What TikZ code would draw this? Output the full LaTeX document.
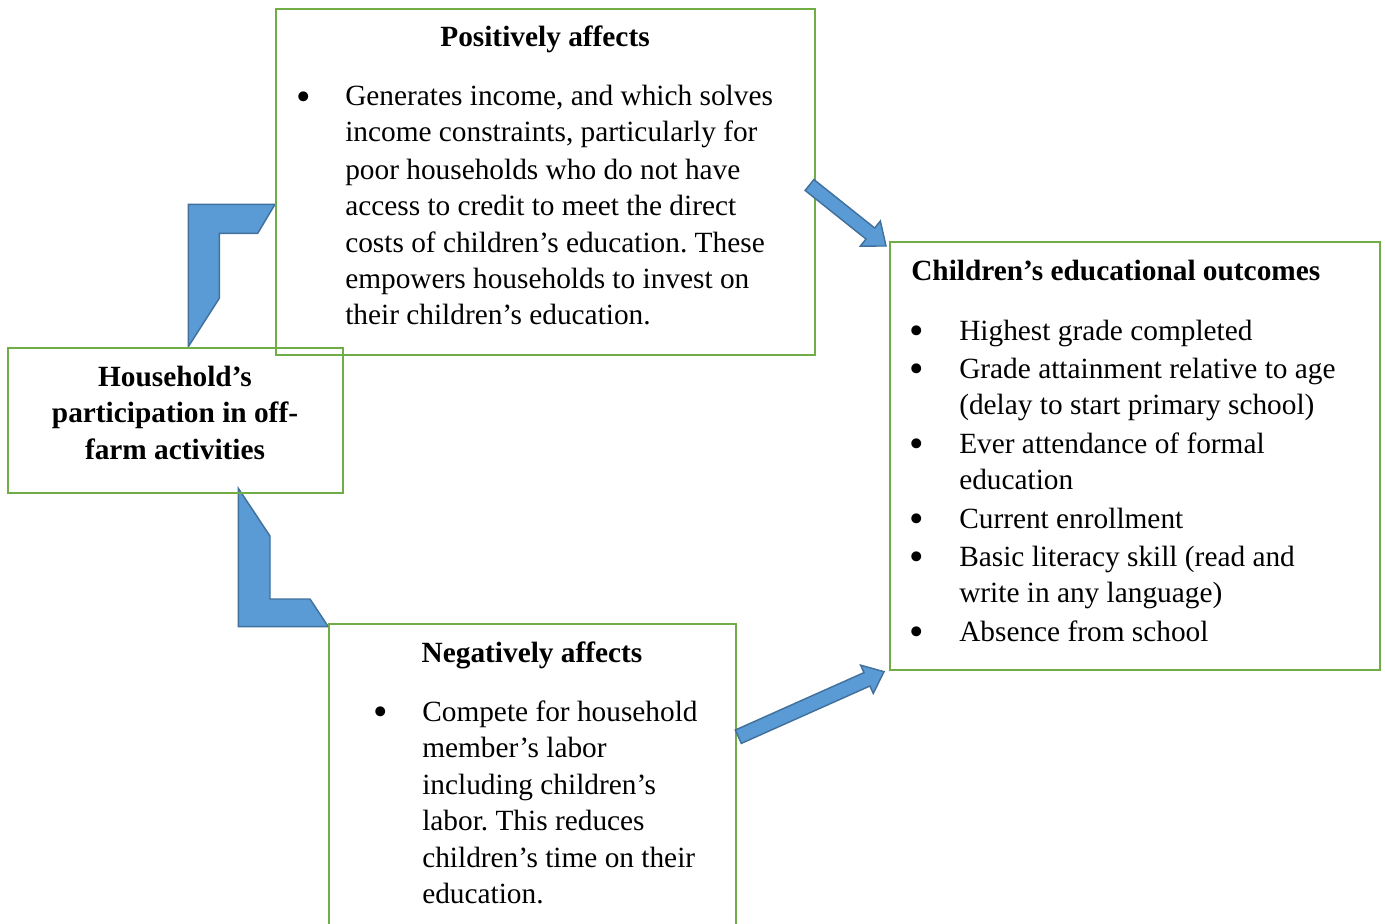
\documentclass[tikz,border=0pt]{standalone}
\usepackage{fontspec}
\setmainfont{Liberation Serif}
\usetikzlibrary{calc}
\frenchspacing
\definecolor{boxgreen}{HTML}{70AD47}
\definecolor{arrfill}{HTML}{5B9BD5}
\definecolor{arrline}{HTML}{41719C}
\tikzset{
  gbox/.style={draw=boxgreen, line width=1.7pt, inner sep=0pt, fill=none},
  ln/.style={anchor=base west, inner sep=0pt, font=\fontsize{22}{27}\selectfont},
  lnc/.style={anchor=base, inner sep=0pt, font=\fontsize{22}{27}\selectfont\bfseries},
  ttl/.style={anchor=base, inner sep=0pt, font=\fontsize{22}{27}\selectfont\bfseries},
  bul/.style={anchor=base, inner sep=0pt, font=\fontsize{31}{31}\selectfont},
  blk/.style={fill=arrfill, draw=arrline, line width=1.1pt, line join=miter},
}
\newcommand\blkarrow[5]{% tail, tip, half shaft, half head, head length
  \coordinate (#1h) at ($(#2)!#5!(#1)$);
  \filldraw[blk] ($(#1)!#3!90:(#2)$) -- ($(#1h)!#3!90:(#2)$) -- ($(#1h)!#4!90:(#2)$) -- (#2)
    -- ($(#1h)!#4!-90:(#2)$) -- ($(#1h)!#3!-90:(#2)$) -- ($(#1)!#3!-90:(#2)$) -- cycle;}
\begin{document}
\begin{tikzpicture}[x=0.75pt,y=-0.75pt]
\clip (0,0) rectangle (1385,924);
\fill[white] (0,0) rectangle (1385,924);

% bent arrows
\filldraw[blk] (188.3,204.3) -- (275,204.3) -- (257.7,233.3) -- (219.3,233.3) -- (219.3,298.3) -- (188.3,346.7) -- cycle;
\filldraw[blk] (238.3,488.3) -- (270,536) -- (270,599) -- (310,599) -- (328.3,626.7) -- (238.3,626.7) -- cycle;

% boxes
\node[gbox, minimum width=404.25pt, minimum height=259.5pt] (posbox) at (545.5,182) {};
\node[gbox, minimum width=251.25pt, minimum height=108.75pt] (hhbox) at (175.5,420.5) {};
\node[gbox, minimum width=367.5pt, minimum height=321pt] (outbox) at (1135,456) {};
\node[gbox, minimum width=305.25pt, minimum height=237pt] (negbox) at (532.5,782) {};

% left box
\node[lnc] (h1) at (175,386) {Household’s};
\node[lnc] (h2) at (175,422) {participation in off-};
\node[lnc] (h3) at (175,459) {farm activities};

% top box
\node[ttl] (pt) at (545,47) {Positively affects};
\node[bul] (pb) at (304,110) {•};
\node[ln] (p1) at (345,106) {Generates income, and which solves};
\node[ln] (p2) at (345,142) {income constraints, particularly for};
\node[ln] (p3) at (345,179) {poor households who do not have};
\node[ln] (p4) at (345,215) {access to credit to meet the direct};
\node[ln] (p5) at (345,252) {costs of children’s education. These};
\node[ln] (p6) at (345,288) {empowers households to invest on};
\node[ln] (p7) at (345,324) {their children’s education.};

% right box
\node[ln, font=\fontsize{22}{27}\selectfont\bfseries] (ct) at (911,280) {Children’s educational outcomes};
\node[bul] (cb1) at (917,344) {•};
\node[bul] (cb2) at (917,382) {•};
\node[bul] (cb3) at (917,457) {•};
\node[bul] (cb4) at (917,532) {•};
\node[bul] (cb5) at (917,570) {•};
\node[bul] (cb6) at (917,645) {•};
\node[ln] (c1) at (959,340) {Highest grade completed};
\node[ln] (c2) at (959,378) {Grade attainment relative to age};
\node[ln] (c3) at (959,414) {(delay to start primary school)};
\node[ln] (c4) at (959,453) {Ever attendance of formal};
\node[ln] (c5) at (959,489) {education};
\node[ln] (c6) at (959,528) {Current enrollment};
\node[ln] (c7) at (959,566) {Basic literacy skill (read and};
\node[ln] (c8) at (959,602) {write in any language)};
\node[ln] (c9) at (959,641) {Absence from school};

% bottom box
\node[ttl] (nt) at (532,662) {Negatively affects};
\node[bul] (nb) at (381,725) {•};
\node[ln] (n1) at (422,721) {Compete for household};
\node[ln] (n2) at (422,757) {member’s labor};
\node[ln] (n3) at (422,794) {including children’s};
\node[ln] (n4) at (422,830) {labor. This reduces};
\node[ln] (n5) at (422,867) {children’s time on their};
\node[ln] (n6) at (422,903) {education.};

% straight block arrows
\coordinate (a1) at (809.5,185);
\coordinate (a1t) at (886,246);
\blkarrow{a1}{a1t}{5.25pt}{12pt}{15pt}
\coordinate (a2) at (738.3,736.7);
\coordinate (a2t) at (884,671.7);
\blkarrow{a2}{a2t}{5.5pt}{11.6pt}{14pt}
\end{tikzpicture}
\end{document}
